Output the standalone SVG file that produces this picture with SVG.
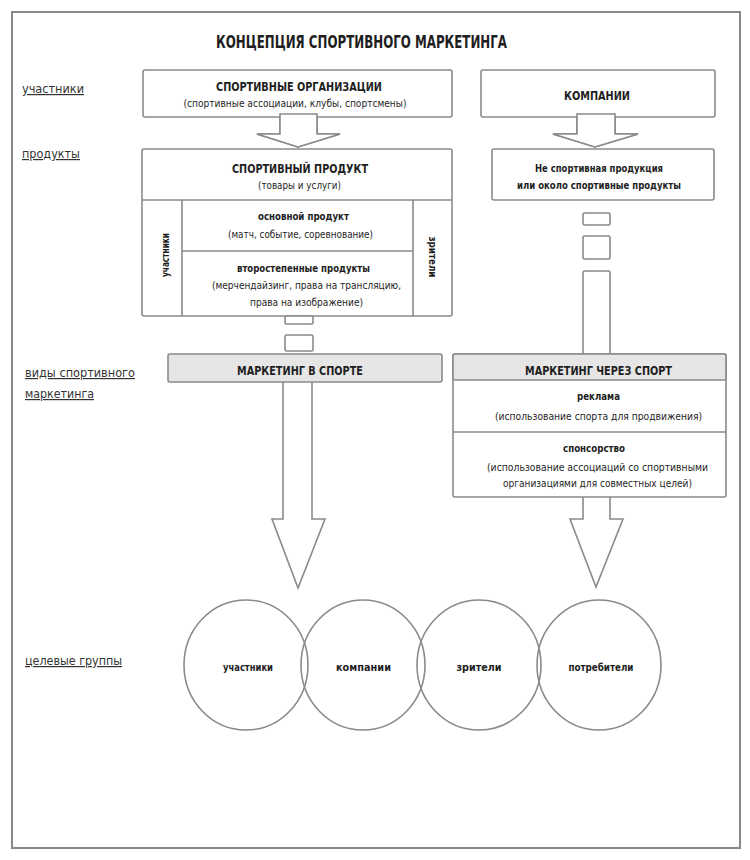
<svg xmlns="http://www.w3.org/2000/svg" width="750" height="860" viewBox="0 0 750 860">
<style>
.box{fill:#fff;stroke:#8a8a8a;stroke-width:1.6}
.gbox{fill:#e6e6e6;stroke:#8a8a8a;stroke-width:1.6}
.ln{fill:none;stroke:#8a8a8a;stroke-width:1.6}
.arr{fill:#fff;stroke:#8a8a8a;stroke-width:1.6;stroke-linejoin:miter}
.circ{fill:none;stroke:#8a8a8a;stroke-width:1.6}
text{font-family:"DejaVu Sans Condensed","DejaVu Sans","Liberation Sans",sans-serif;fill:#1e1e1e;text-anchor:middle}
.b{font-weight:bold}
.t{font-size:17px;font-weight:bold}
.h{font-size:13px;font-weight:bold}
.s{font-size:10px}
.sb{font-size:10px;font-weight:bold}
.lab{font-size:12px;text-anchor:start;text-decoration:underline;fill:#333}
</style>
<rect x="12" y="12" width="728" height="836" fill="#fff" stroke="#888" stroke-width="2"/>
<g id="title"><text class="t" x="361.5" y="48" textLength="291" lengthAdjust="spacingAndGlyphs">КОНЦЕПЦИЯ СПОРТИВНОГО МАРКЕТИНГА</text></g>
<g id="labels">
<text class="lab" x="22" y="93" textLength="62" lengthAdjust="spacingAndGlyphs">участники</text>
<text class="lab" x="22" y="158" textLength="58" lengthAdjust="spacingAndGlyphs">продукты</text>
<text class="lab" x="25" y="377" textLength="110" lengthAdjust="spacingAndGlyphs">виды спортивного</text>
<text class="lab" x="25" y="398" textLength="69" lengthAdjust="spacingAndGlyphs">маркетинга</text>
<text class="lab" x="25" y="665" textLength="97" lengthAdjust="spacingAndGlyphs">целевые группы</text>
</g>
<g id="sport-orgs">
<rect class="box" x="143" y="70" width="309" height="47" rx="2"/>
<text class="h" x="299" y="91" textLength="166" lengthAdjust="spacingAndGlyphs">СПОРТИВНЫЕ ОРГАНИЗАЦИИ</text>
<text class="s" x="295" y="106.5" textLength="223" lengthAdjust="spacingAndGlyphs">(спортивные ассоциации, клубы, спортсмены)</text>
</g>
<g id="companies">
<rect class="box" x="481" y="70" width="234" height="47" rx="2"/>
<text class="h" x="597" y="100" textLength="66" lengthAdjust="spacingAndGlyphs">КОМПАНИИ</text>
</g>
<g id="sport-product">
<rect class="box" x="142" y="149" width="310" height="167" rx="2"/>
<line class="ln" x1="142" y1="200" x2="452" y2="200"/>
<line class="ln" x1="182" y1="200" x2="182" y2="316"/>
<line class="ln" x1="413" y1="200" x2="413" y2="316"/>
<line class="ln" x1="182" y1="251" x2="413" y2="251"/>
<text class="h" x="300" y="172.7" textLength="136" lengthAdjust="spacingAndGlyphs">СПОРТИВНЫЙ ПРОДУКТ</text>
<text class="s" x="299.5" y="188.5" textLength="83" lengthAdjust="spacingAndGlyphs">(товары и услуги)</text>
<text class="sb" x="303.5" y="219.5" textLength="91" lengthAdjust="spacingAndGlyphs">основной продукт</text>
<text class="s" x="300.5" y="237.5" textLength="145" lengthAdjust="spacingAndGlyphs">(матч, событие, соревнование)</text>
<text class="sb" x="303.5" y="271.5" textLength="133" lengthAdjust="spacingAndGlyphs">второстепенные продукты</text>
<text class="s" x="306.5" y="288.5" textLength="189" lengthAdjust="spacingAndGlyphs">(мерчендайзинг, права на трансляцию,</text>
<text class="s" x="306.5" y="305.5" textLength="113" lengthAdjust="spacingAndGlyphs">права на изображение)</text>
<text class="sb" transform="translate(168.5,255) rotate(-90)" x="0" y="0" textLength="44" lengthAdjust="spacingAndGlyphs">участники</text>
<text class="sb" transform="translate(428.5,257) rotate(90)" x="0" y="0" textLength="41" lengthAdjust="spacingAndGlyphs">зрители</text>
</g>
<g id="non-sport-product">
<rect class="box" x="492" y="149" width="222" height="51" rx="2"/>
<text class="sb" x="599" y="171.5" textLength="128" lengthAdjust="spacingAndGlyphs">Не спортивная продукция</text>
<text class="sb" x="599" y="188.5" textLength="164" lengthAdjust="spacingAndGlyphs">или около спортивные продукты</text>
</g>
<g id="connectors">
<path class="arr" d="M280,114 V134 H257 L298,147 L340,134 H317 V114 Z" stroke="none"/>
<path class="arr" d="M280,117 V134 H257 L298,147 L340,134 H317 V117" fill="none"/>
<path class="arr" d="M577,114 V134 H553 L595,147 L638,134 H615 V114 Z" stroke="none"/>
<path class="arr" d="M577,117 V134 H553 L595,147 L638,134 H615 V117" fill="none"/>
<rect class="box" x="285" y="316" width="28" height="8" rx="1.5"/>
<rect class="box" x="285" y="335" width="28" height="16" rx="1.5"/>
<rect class="box" x="583" y="213" width="27" height="12" rx="1.5"/>
<rect class="box" x="583" y="236" width="27" height="23" rx="1.5"/>
<rect class="box" x="583" y="271" width="27" height="83" rx="1.5"/>
<path class="arr" d="M283,382 V519 H272 L298,588 L325,519 H312 V382"/>
<path class="arr" d="M583,497 V519 H570 L596,587 L623,519 H610 V497"/>
</g>
<g id="marketing-in-sport">
<rect class="gbox" x="168" y="354" width="274" height="28" rx="2"/>
<text class="h" x="300" y="375" textLength="126" lengthAdjust="spacingAndGlyphs">МАРКЕТИНГ В СПОРТЕ</text>
</g>
<g id="marketing-through-sport">
<rect class="box" x="453" y="354" width="273" height="143" rx="2"/>
<rect class="gbox" x="453" y="354" width="273" height="26" rx="2"/>
<line class="ln" x1="453" y1="432" x2="726" y2="432"/>
<text class="h" x="598.5" y="375" textLength="147" lengthAdjust="spacingAndGlyphs">МАРКЕТИНГ ЧЕРЕЗ СПОРТ</text>
<text class="sb" x="598.5" y="399.5" textLength="43" lengthAdjust="spacingAndGlyphs">реклама</text>
<text class="s" x="598.5" y="419.5" textLength="207" lengthAdjust="spacingAndGlyphs">(использование спорта для продвижения)</text>
<text class="sb" x="594" y="451.5" textLength="62" lengthAdjust="spacingAndGlyphs">спонсорство</text>
<text class="s" x="597.5" y="470.5" textLength="221" lengthAdjust="spacingAndGlyphs">(использование ассоциаций со спортивными</text>
<text class="s" x="597.5" y="486.5" textLength="189" lengthAdjust="spacingAndGlyphs">организациями для совместных целей)</text>
</g>
<g id="group-participants">
<ellipse class="circ" cx="246" cy="665" rx="62" ry="65"/>
<text class="sb" x="248" y="670.5" textLength="50" lengthAdjust="spacingAndGlyphs">участники</text>
</g>
<g id="group-companies">
<ellipse class="circ" cx="363" cy="665" rx="62" ry="65"/>
<text class="sb" x="363.5" y="670.5" textLength="55" lengthAdjust="spacingAndGlyphs">компании</text>
</g>
<g id="group-spectators">
<ellipse class="circ" cx="479" cy="665" rx="62" ry="65"/>
<text class="sb" x="479" y="670.5" textLength="45" lengthAdjust="spacingAndGlyphs">зрители</text>
</g>
<g id="group-consumers">
<ellipse class="circ" cx="599" cy="665" rx="62" ry="65"/>
<text class="sb" x="601" y="670.5" textLength="65" lengthAdjust="spacingAndGlyphs">потребители</text>
</g>
</svg>
